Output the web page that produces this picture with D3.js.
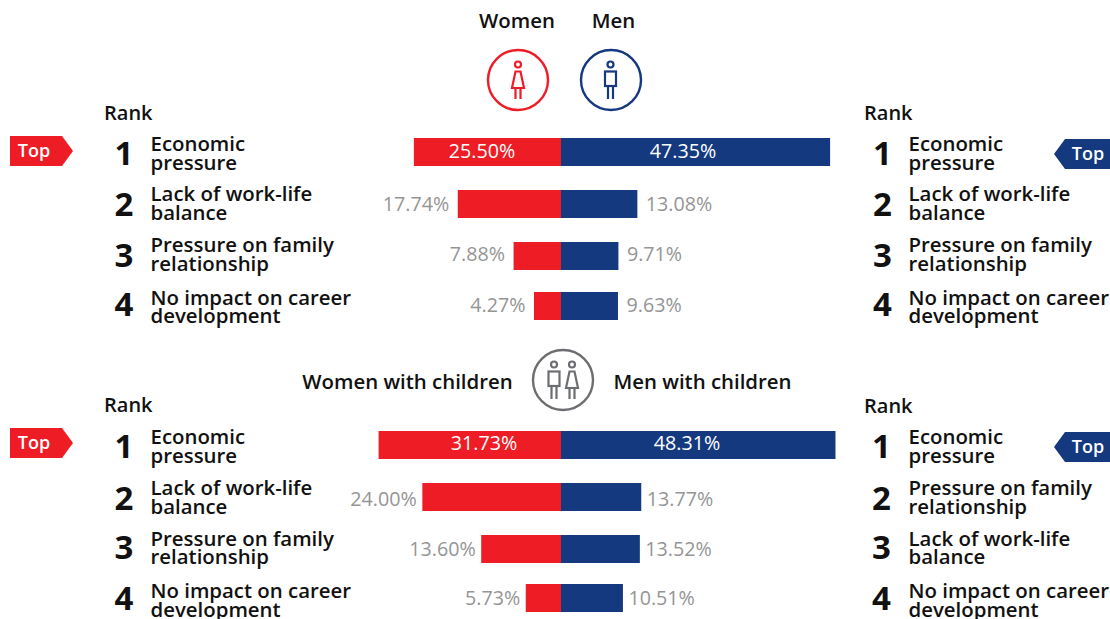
<!DOCTYPE html>
<html><head><meta charset="utf-8">
<script src="https://cdn.jsdelivr.net/npm/d3@7/dist/d3.min.js"></script>
<style>html,body{margin:0;padding:0;background:#fff}svg{display:block}text{font-family:"Open Sans",sans-serif}</style>
</head><body><svg id="c" width="1110" height="619"></svg>
<script>
const ranks=[1,2,3,4];
const catsTopLeft=[["Economic","pressure"],["Lack of work-life","balance"],["Pressure on family","relationship"],["No impact on career","development"]];
const catsTopRight=catsTopLeft;
const catsBottomLeft=catsTopLeft;
const catsBottomRight=[["Economic","pressure"],["Pressure on family","relationship"],["Lack of work-life","balance"],["No impact on career","development"]];
const womenTop=[25.50,17.74,7.88,4.27];
const menTop=[47.35,13.08,9.71,9.63];
const womenBottom=[31.73,24.00,13.60,5.73];
const menBottom=[48.31,13.77,13.52,10.51];
const RED="#ee1c25",BLUE="#15397f",GREY="#6d6e71",TXT="#111",VAL="#959595";
const svg=d3.select("#c");
const cx=561;
const xR=d3.scaleLinear().domain([-0.5,50]).range([cx,cx+284]);
const xL=d3.scaleLinear().domain([-0.5,50]).range([cx,cx-285.8]);
const fmt=v=>v.toFixed(2)+"%";
function txt(x,y,s,size,w,fill,anchor){return svg.append("text").attr("x",x).attr("y",y).text(s).attr("font-size",size).attr("font-weight",w).attr("fill",fill||TXT).attr("text-anchor",anchor||"start");}
function bars(L,w,m){
  L.barY.forEach((y,i)=>{
    svg.append("rect").attr("x",xL(w[i])).attr("y",y).attr("width",cx-xL(w[i])).attr("height",28).attr("fill",RED);
    svg.append("rect").attr("x",cx).attr("y",y).attr("width",xR(m[i])-cx).attr("height",28).attr("fill",BLUE);
    const by=L.valY[i];
    if(i===0){
      txt(L.innerW,by,fmt(w[i]),19.7,400,"#fff","middle");
      txt(L.innerM,by,fmt(m[i]),19.7,400,"#fff","middle");
    }else{
      txt(xL(w[i])-L.gap,by,fmt(w[i]),19.7,400,VAL,"end");
      txt(xR(m[i])+L.gap,by,fmt(m[i]),19.7,400,VAL,"start");
    }
  });
}
function column(L,cats,xNum,xLab){
  L.numY.forEach((y,i)=>{
    txt(xNum,y,ranks[i],33,700,TXT,"middle");
    txt(xLab,L.line1[i],cats[i][0],20.4,600);
    txt(xLab,L.line2[i],cats[i][1],20.4,600);
  });
}
function tag(kind,y){
  if(kind==="L"){
    svg.append("path").attr("d",d3.line()([[10,y-15],[62,y-15],[73,y],[62,y+15],[10,y+15]])+"Z").attr("fill",RED);
    txt(34,y+6,"Top",18,600,"#fff","middle");
  }else{
    svg.append("path").attr("d",d3.line()([[1110,y-15],[1065,y-15],[1054,y],[1065,y+15],[1110,y+15]])+"Z").attr("fill",BLUE);
    txt(1088,y+6,"Top",18,600,"#fff","middle");
  }
}
function man(g,x,y,c){
  g.append("circle").attr("cx",x).attr("cy",y-15.5).attr("r",3).attr("fill","none").attr("stroke",c).attr("stroke-width",2.2);
  g.append("rect").attr("x",x-5.5).attr("y",y-8.5).attr("width",11).attr("height",14.5).attr("fill","none").attr("stroke",c).attr("stroke-width",2.2);
  g.append("path").attr("d",`M${x-2.5},${y+6}V${y+19}M${x+2.5},${y+6}V${y+19}`).attr("stroke",c).attr("stroke-width",2.2).attr("fill","none");
}
function woman(g,x,y,c){
  g.append("circle").attr("cx",x).attr("cy",y-15.5).attr("r",3).attr("fill","none").attr("stroke",c).attr("stroke-width",2.2);
  g.append("path").attr("d",`M${x-2.5},${y-8.5}H${x+2.5}L${x+6},${y+8}H${x-6}Z`).attr("fill","none").attr("stroke",c).attr("stroke-width",2.2);
  g.append("path").attr("d",`M${x-2.5},${y+8}V${y+19}M${x+2.5},${y+8}V${y+19}`).attr("stroke",c).attr("stroke-width",2.2).attr("fill","none");
}
function ring(x,y,c){return svg.append("circle").attr("cx",x).attr("cy",y).attr("r",30).attr("fill","none").attr("stroke",c).attr("stroke-width",2.4);}

const layoutTop={barY:[138,190,242,292],valY:[158,211,261,312],numY:[165,215.5,267,316],line1:[151,201,252,305],line2:[170,220,271,323],innerW:482,innerM:683,gap:8.5};
const layoutBottom={barY:[431,483,535,584],valY:[450,506,556,605],numY:[458,510,559,610],line1:[444,495,546,598],line2:[463,514,564,617],innerW:484,innerM:687,gap:5.5};

txt(517,28,"Women",20.4,600,TXT,"middle");
txt(613.5,28,"Men",20.4,600,TXT,"middle");
ring(518,80,RED);woman(svg,518,80,RED);
ring(611,80,BLUE);man(svg,610.5,80,BLUE);

txt(407.5,389,"Women with children",20.4,600,TXT,"middle");
txt(702.5,389,"Men with children",20.4,600,TXT,"middle");
ring(563,380,GREY);man(svg,554,380,GREY);woman(svg,572,380,GREY);

txt(104,119.5,"Rank",20,600);
txt(864,119.5,"Rank",20,600);
txt(104,411.5,"Rank",20,600);
txt(864,412.5,"Rank",20,600);

bars(layoutTop,womenTop,menTop);
bars(layoutBottom,womenBottom,menBottom);
column(layoutTop,catsTopLeft,124,150.5);
column(layoutTop,catsTopRight,882.5,908.5);
column(layoutBottom,catsBottomLeft,124,150.5);
column(layoutBottom,catsBottomRight,881.5,908.5);
tag("L",151);tag("R",154);tag("L",443);tag("R",447);
</script></body></html>
